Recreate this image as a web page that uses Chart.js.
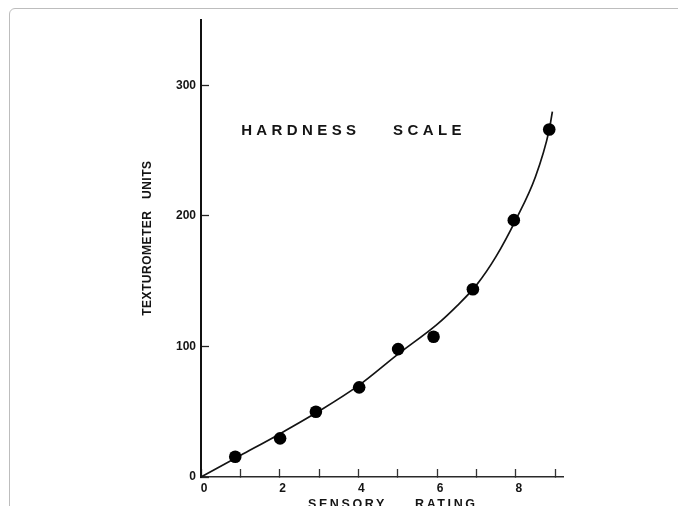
<!DOCTYPE html>
<html>
<head>
<meta charset="utf-8">
<title>Hardness scale</title>
<script src="https://cdn.jsdelivr.net/npm/chart.js@4"></script>
<style>
  html, body { margin: 0; padding: 0; background: #fff; }
  #wrap { position: relative; width: 678px; height: 506px; overflow: hidden; }
  #frame {
    position: absolute; left: 9px; top: 8px; width: 720px; height: 540px;
    border: 1px solid #bdbdbd; border-radius: 6px; box-sizing: border-box;
  }
  #c { position: absolute; left: 0; top: 0; }
</style>
</head>
<body>
<div id="wrap">
  <div id="frame"></div>
  <canvas id="c" width="678" height="506"></canvas>
</div>
<script>
// Measured samples: sensory hardness rating vs. texturometer reading
const ratings = [0.87, 2.01, 2.92, 4.02, 5.01, 5.91, 6.91, 7.95, 8.85];
const units   = [15.5, 29.6, 50, 68.7, 98, 107.5, 143.8, 196.8, 266.3];

// Hand-drawn fitted curve through the samples
const curveRatings = [0, 1, 2, 3, 4, 5, 6, 6.5, 7, 7.5, 8, 8.5, 8.85, 8.93];
const curveUnits   = [0, 16.5, 33, 50.5, 70, 94, 117, 131, 147, 169, 197, 230, 266, 280];

// Axis ticks and labels
const xTickValues = [0, 1, 2, 3, 4, 5, 6, 7, 8, 9];
const xTickLabels = ['0', '', '2', '', '4', '', '6', '', '8', ''];
const yTickValues = [0, 100, 200, 300];
const yTickLabels = ['0', '100', '200', '300'];

const titleWords = ['HARDNESS', 'SCALE'];
const xTitleWords = ['SENSORY', 'RATING'];
const yTitle = 'TEXTUROMETER   UNITS';

const INK = '#141414';
const FONT = '"Liberation Sans", Arial, sans-serif';

const samplePoints = ratings.map((r, i) => ({ x: r, y: units[i] }));
const curvePoints = curveRatings.map((r, i) => ({ x: r, y: curveUnits[i] }));

const labelsPlugin = {
  id: 'figureText',
  afterDraw(chart) {
    const { ctx, chartArea, scales: { x, y } } = chart;
    ctx.save();
    ctx.fillStyle = INK;

    // Figure title inside the plot
    ctx.font = 'bold 15px ' + FONT;
    ctx.letterSpacing = '4.4px';
    ctx.textBaseline = 'middle';
    ctx.textAlign = 'left';
    ctx.fillText(titleWords[0], x.getPixelForValue(1.02), y.getPixelForValue(265));
    ctx.fillText(titleWords[1], x.getPixelForValue(4.88), y.getPixelForValue(265));

    // X axis title
    ctx.font = 'bold 12.5px ' + FONT;
    ctx.letterSpacing = '2.6px';
    ctx.textBaseline = 'alphabetic';
    ctx.fillText(xTitleWords[0], chartArea.left + 107, chartArea.bottom + 31);
    ctx.fillText(xTitleWords[1], chartArea.left + 214, chartArea.bottom + 31);

    // Y axis title, rotated
    ctx.font = 'bold 12px ' + FONT;
    ctx.letterSpacing = '0.5px';
    ctx.textAlign = 'center';
    ctx.textBaseline = 'middle';
    ctx.translate(chartArea.left - 53, y.getPixelForValue(183));
    ctx.rotate(-Math.PI / 2);
    ctx.fillText(yTitle, 0, 0);
    ctx.restore();
  }
};

new Chart(document.getElementById('c'), {
  type: 'scatter',
  data: {
    datasets: [
      {
        label: 'fit',
        data: curvePoints,
        showLine: true,
        borderColor: INK,
        borderWidth: 1.7,
        pointRadius: 0,
        cubicInterpolationMode: 'monotone',
        fill: false,
        order: 2
      },
      {
        label: 'samples',
        data: samplePoints,
        backgroundColor: '#000',
        borderWidth: 0,
        pointRadius: 6.3,
        pointStyle: 'circle',
        order: 1
      }
    ]
  },
  options: {
    responsive: false,
    animation: false,
    devicePixelRatio: 1,
    layout: { padding: { left: 0, top: 20, right: 115, bottom: 0 } },
    plugins: {
      legend: { display: false },
      tooltip: { enabled: false },
      title: { display: false }
    },
    scales: {
      x: {
        type: 'linear',
        position: 'bottom',
        min: 0,
        max: 9.2,
        afterFit: s => { s.height = 29; },
        afterBuildTicks: s => { s.ticks = xTickValues.map(v => ({ value: v })); },
        border: { display: true, color: '#2a2a2a', width: 1.6 },
        grid: {
          drawOnChartArea: false,
          drawTicks: true,
          tickLength: -8,
          tickColor: '#333',
          tickWidth: 1.3
        },
        ticks: {
          autoSkip: false,
          maxRotation: 0,
          padding: 12,
          labelOffset: 3,
          color: INK,
          font: { family: FONT, size: 12, weight: 'bold' },
          callback: v => xTickLabels[xTickValues.indexOf(v)] ?? ''
        }
      },
      y: {
        type: 'linear',
        position: 'left',
        min: 0,
        max: 350,
        afterFit: s => { s.width = 201; },
        afterBuildTicks: s => { s.ticks = yTickValues.map(v => ({ value: v })); },
        border: { display: true, color: '#111', width: 2 },
        grid: {
          drawOnChartArea: false,
          drawTicks: true,
          tickLength: -8,
          tickColor: '#222',
          tickWidth: 1.3
        },
        ticks: {
          padding: 13,
          color: INK,
          font: { family: FONT, size: 12, weight: 'bold' },
          callback: v => yTickLabels[yTickValues.indexOf(v)] ?? ''
        }
      }
    }
  },
  plugins: [labelsPlugin]
});
</script>
</body>
</html>
